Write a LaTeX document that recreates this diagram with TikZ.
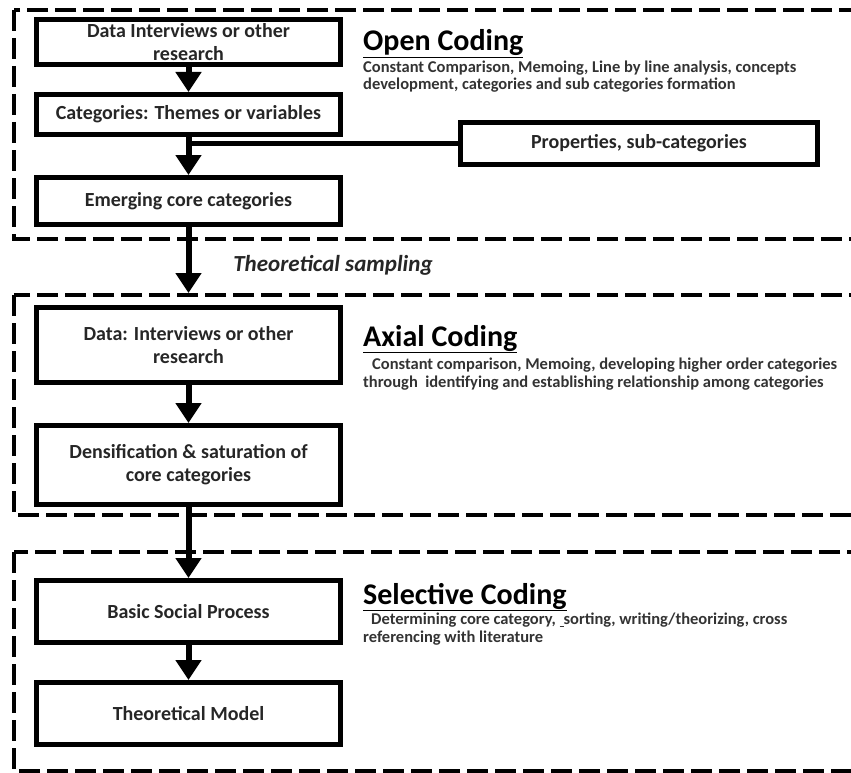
\documentclass[tikz,border=0pt]{standalone}
\usepackage{fontspec}
\setmainfont{Carlito}
\usetikzlibrary{arrows.meta, positioning}

\tikzset{
	stage/.style={draw, line width=5pt, minimum width=304pt, align=center, inner sep=2pt,
		font=\bfseries\fontsize{20}{23}\selectfont, text=black!85},
	flow/.style={line width=6pt, -{Triangle[width=25pt,length=20pt]}},
	frame/.style={line width=4pt, dash pattern=on 21pt off 7pt},
	heading/.style={anchor=base west, inner sep=0pt, font=\bfseries\fontsize{30}{32}\selectfont},
	remark/.style={anchor=base west, inner sep=0pt, align=left,
		font=\bfseries\fontsize{16.5}{17.5}\selectfont, text=black!80}
}

\begin{document}
\begin{tikzpicture}[x=1pt, y=-1pt]
	\useasboundingbox (0,0) rectangle (851,773);
	\clip (0,0) rectangle (851,773);

	% dashed phases
	\draw[frame] (14,10) rectangle (880,239);
	\draw[frame] (14,295) rectangle (880,515);
	\draw[frame] (14,552) rectangle (880,771);

	% open coding
	\node[stage, minimum height=45pt] (data) at (188.5,42) {Data Interviews or other\\research};
	\node[stage, minimum height=40pt] (cat) at (188.5,114.5) {Categories: Themes or variables};
	\node[stage, minimum height=47pt] (emerg) at (188.5,201) {Emerging core categories};
	\node[stage, minimum width=357pt, minimum height=42pt] (props) at (639,143.5) {Properties, sub-categories};
	\coordinate (joint) at (cat.south |- props.west);

	\draw[flow] (data) -- (cat);
	\draw[flow] (cat) -- (emerg);
	\draw[line width=5pt] (props.west) -- (joint);

	\node[heading] (open) at (363,51) {\underline{Open Coding}};
	\node[remark] at (363,90) {Constant Comparison, Memoing, Line by line analysis, concepts\\development, categories and sub categories formation};

	% axial coding
	\coordinate (axtop) at (188.5,293);
	\draw[flow] (emerg.south) -- (axtop);
	\node[font=\bfseries\itshape\fontsize{23}{25}\selectfont, text=black!85] (samp) at (333,265) {Theoretical sampling};

	\node[stage, minimum height=75pt] (data2) at (188.5,345) {Data: Interviews or other\\research};
	\node[stage, minimum height=79pt] (dens) at (188.5,465) {Densification \& saturation of\\core categories};
	\draw[flow] (data2) -- (dens);

	\node[heading] (axial) at (363,346) {\underline{Axial Coding}};
	\node[remark] at (363,387) {\hspace{9pt}Constant comparison, Memoing, developing higher order categories\\through\ \ identifying and establishing relationship among categories};

	% selective coding
	\node[stage, minimum height=62pt] (basic) at (188.5,611.5) {Basic Social Process};
	\node[stage, minimum height=62pt] (model) at (188.5,713.5) {Theoretical Model};
	\draw[flow] (dens.south) -- (basic.north);
	\draw[flow] (basic) -- (model);

	\node[heading] (select) at (363,604) {\underline{Selective Coding}};
	\node[remark] at (363,642) {\hspace{8pt}Determining core category,\ \underline{\hspace{4pt}}sorting, writing/theorizing, cross\\referencing with literature};
\end{tikzpicture}
\end{document}
